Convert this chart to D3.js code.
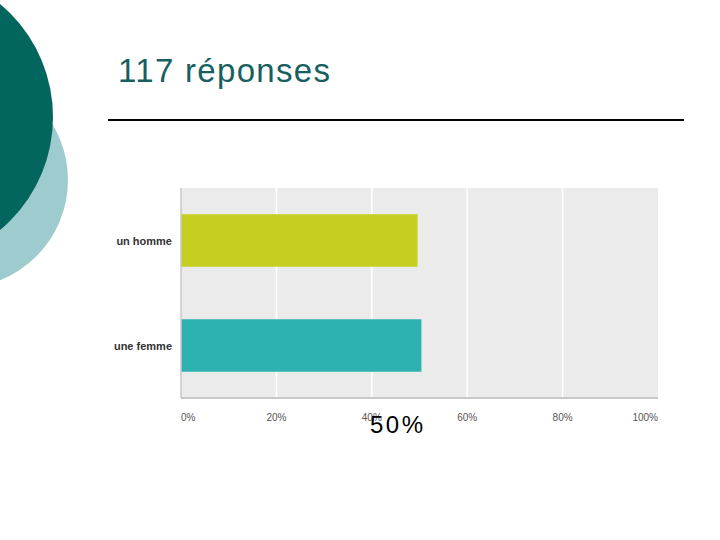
<!DOCTYPE html>
<html>
<head>
<meta charset="utf-8">
<script src="https://cdn.jsdelivr.net/npm/d3@7"></script>
<style>
  body { margin: 0; background: #fff; }
  svg { display: block; }
</style>
</head>
<body>
<div id="chart"></div>
<script>
// data
const categories = ["un homme", "une femme"];
const percents = [49.6, 50.4];
const barColors = ["#c5cf21", "#2eb2b1"];
const tickValues = [0, 20, 40, 60, 80, 100];
const titleText = "117 réponses";
const overlayText = "50%";

const w = 720;
const h = 540;

let svg = d3.select("#chart").append("svg")
            .attr("width", w)
            .attr("height", h);

// decorative circles top left
svg.append("circle").attr("cx", -40).attr("cy", 180).attr("r", 108).attr("fill", "#9ecbcd");
svg.append("circle").attr("cx", -94).attr("cy", 117).attr("r", 147).attr("fill", "#02665f");

// title + rule
svg.append("text")
   .attr("x", 118).attr("y", 82)
   .attr("font-family", "Liberation Sans, Arial, sans-serif")
   .attr("font-size", 33)
   .attr("fill", "#17605f")
   .attr("textLength", 212)
   .attr("lengthAdjust", "spacing")
   .text(titleText);

svg.append("line")
   .attr("x1", 108).attr("x2", 684)
   .attr("y1", 120).attr("y2", 120)
   .attr("stroke", "#000").attr("stroke-width", 2);

// plot area
const plotLeft = 181, plotRight = 658, plotTop = 188, plotBottom = 398;

let xScale = d3.scaleLinear().domain([0, 100]).range([plotLeft, plotRight]);
let yScale = d3.scaleBand().domain(categories).range([plotTop, plotBottom]).paddingInner(0.5).paddingOuter(0.25);

svg.append("rect")
   .attr("x", plotLeft).attr("y", plotTop)
   .attr("width", plotRight - plotLeft).attr("height", plotBottom - plotTop)
   .attr("fill", "#ebebeb");

// gridlines
svg.selectAll("line.grid").data(tickValues.slice(1, -1)).enter().append("line")
   .attr("class", "grid")
   .attr("x1", d => xScale(d)).attr("x2", d => xScale(d))
   .attr("y1", plotTop).attr("y2", plotBottom)
   .attr("stroke", "#fff").attr("stroke-width", 1.5);

// bars
svg.selectAll("rect.bar").data(categories).enter().append("rect")
   .attr("class", "bar")
   .attr("x", xScale(0))
   .attr("y", d => yScale(d))
   .attr("width", (d, i) => xScale(percents[i]) - xScale(0))
   .attr("height", yScale.bandwidth())
   .attr("fill", (d, i) => barColors[i]);

// axes lines
svg.append("line")
   .attr("x1", plotLeft).attr("x2", plotLeft).attr("y1", plotTop).attr("y2", plotBottom)
   .attr("stroke", "#c8c8c8").attr("stroke-width", 1.5);
svg.append("line")
   .attr("x1", plotLeft).attr("x2", plotRight).attr("y1", plotBottom).attr("y2", plotBottom)
   .attr("stroke", "#c8c8c8").attr("stroke-width", 2);

// category labels
svg.selectAll("text.cat").data(categories).enter().append("text")
   .attr("class", "cat")
   .attr("x", 172)
   .attr("y", d => yScale(d) + yScale.bandwidth() / 2 + 4)
   .attr("text-anchor", "end")
   .attr("font-family", "Liberation Sans, Arial, sans-serif")
   .attr("font-size", 11)
   .attr("font-weight", "bold")
   .attr("fill", "#333")
   .text(d => d);

// tick labels: first one left aligned, last one right aligned
svg.selectAll("text.tick").data(tickValues).enter().append("text")
   .attr("class", "tick")
   .attr("x", d => xScale(d))
   .attr("y", 421)
   .attr("text-anchor", (d, i) => i == 0 ? "start" : (i == tickValues.length - 1 ? "end" : "middle"))
   .attr("font-family", "Liberation Sans, Arial, sans-serif")
   .attr("font-size", 10)
   .attr("fill", "#555")
   .text(d => d + "%");

// overlay label (sits over the 40% tick in the original too)
svg.append("text")
   .attr("x", 370).attr("y", 433)
   .attr("font-family", "Liberation Sans, Arial, sans-serif")
   .attr("font-size", 24)
   .attr("fill", "#000")
   .attr("textLength", 53)
   .attr("lengthAdjust", "spacing")
   .text(overlayText);
</script>
</body>
</html>
